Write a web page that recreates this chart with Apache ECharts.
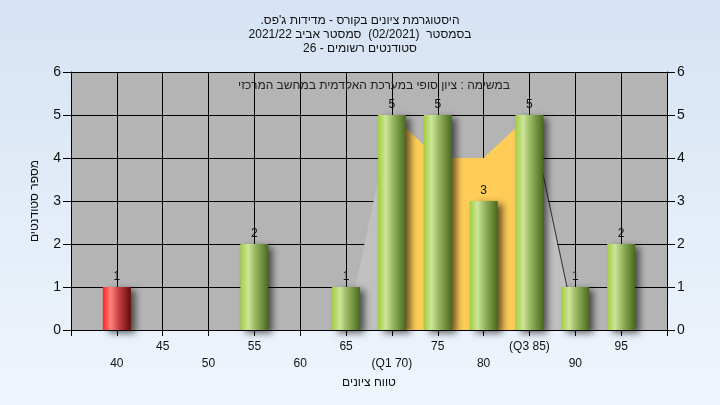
<!DOCTYPE html>
<html>
<head>
<meta charset="utf-8">
<script src="https://cdn.jsdelivr.net/npm/echarts@6/dist/echarts.min.js"></script>
<style>
html,body{margin:0;padding:0;}
#c{width:720px;height:405px;}
</style>
</head>
<body>
<div id="c"></div>
<script>
// ---- data ----
var categories = ['35','40','45','50','55','60','65','70','75','80','85','90','95','100'];
var counts     = [null, 1, 0, 0, 2, 0, 1, 5, 5, 3, 5, 1, 2, null];
var failCats   = ['40'];
var tickLabels = {'70':'(Q1 70)','85':'(Q3 85)'};
var iqrArea    = [[70,5],[75,4],[80,4],[85,5]];
var lowWhisker = [[65,0],[70,5]];
var highWhisker= [[85,5],[90,0]];
var trendLine  = [[85.1,5],[89.1,1]];
var titleLines = ['היסטוגרמת ציונים בקורס - מדידות ג\'פס.\u200F', 'בסמסטר  (02/2021)  סמסטר אביב 2021/22', 'סטודנטים רשומים - 26'];
var subTitle   = 'במשימה : ציון סופי במערכת האקדמית במחשב המרכזי';
var yName = 'מספר סטודנטים';
var xName = 'טווח ציונים';

var FONT = '"Liberation Sans", "DejaVu Sans", Arial, sans-serif';
var greenGrad = new echarts.graphic.LinearGradient(0,0,1,0,[
  {offset:0,color:'#a2cd3f'},{offset:0.28,color:'#cde59a'},{offset:0.55,color:'#95b45e'},{offset:0.9,color:'#5a7a2c'},{offset:1,color:'#4a6520'}]);
var redGrad = new echarts.graphic.LinearGradient(0,0,1,0,[
  {offset:0,color:'#ff2525'},{offset:0.28,color:'#ff8080'},{offset:0.55,color:'#c94545'},{offset:0.9,color:'#801515'},{offset:1,color:'#650a0a'}]);

var barData = counts.map(function(v,i){
  if (v === null) return {value:null};
  var isFail = failCats.indexOf(categories[i]) >= 0;
  return {value: v, itemStyle:{color: isFail ? redGrad : greenGrad}};
});

var chart = echarts.init(document.getElementById('c'), null, {renderer:'canvas'});
chart.setOption({
  backgroundColor: new echarts.graphic.LinearGradient(0,0,0,1,[{offset:0,color:'#d6e3f4'},{offset:1,color:'#eff5fc'}]),
  animation:false,
  textStyle:{fontFamily:FONT},
  title:[{
    text: titleLines.join('\n'), left:'center', top:9,
    textStyle:{fontSize:12, fontWeight:'normal', color:'#111', lineHeight:14, fontFamily:FONT}
  },{
    text: subTitle, left: 369, top: 75, textAlign:'center',
    textStyle:{fontSize:12, fontWeight:'normal', color:'#222', fontFamily:FONT}
  }],
  grid:{left:71, right:53, top:72, bottom:75, show:true, backgroundColor:'#b4b4b4', borderWidth:0},
  xAxis:[{
    type:'category', data:categories, boundaryGap:false,
    axisLine:{lineStyle:{color:'#000', width:1}},
    axisTick:{show:true, length:6, lineStyle:{color:'#000'}},
    splitLine:{show:true, lineStyle:{color:'#000', width:1}},
    axisLabel:{
      interval:0, color:'#111', fontSize:12, margin:8, lineHeight:17, fontFamily:FONT,
      formatter:function(v, idx){
        if (v==='35' || v==='100') return '';
        var t = tickLabels[v] || v;
        return (idx % 2 === 1) ? '\n' + t : t;
      }
    },
    name: xName, nameLocation:'middle', nameGap:45,
    nameTextStyle:{color:'#111', fontSize:12, fontFamily:FONT}
  },{
    type:'value', min:35, max:100, show:false
  }],
  yAxis:[{
    type:'value', min:0, max:6, interval:1, position:'left',
    axisLine:{show:true, lineStyle:{color:'#000'}},
    axisTick:{show:true, length:8, lineStyle:{color:'#000'}},
    splitLine:{show:true, lineStyle:{color:'#000', width:1}},
    axisLabel:{color:'#111', fontSize:14, margin:10, fontFamily:FONT},
    name: yName, nameLocation:'middle', nameGap:30, nameRotate:90,
    nameTextStyle:{color:'#111', fontSize:12, fontFamily:FONT}
  },{
    type:'value', min:0, max:6, interval:1, position:'right',
    axisLine:{show:true, lineStyle:{color:'#000'}},
    axisTick:{show:true, length:8, lineStyle:{color:'#000'}},
    splitLine:{show:false},
    axisLabel:{color:'#111', fontSize:14, margin:10, fontFamily:FONT}
  }],
  series:[{
    type:'line', xAxisIndex:1, data:lowWhisker, symbol:'none', z:1,
    lineStyle:{width:0, opacity:0}, areaStyle:{color:'#c0c0c0', opacity:1}
  },{
    type:'line', xAxisIndex:1, data:highWhisker, symbol:'none', z:1,
    lineStyle:{width:0, opacity:0}, areaStyle:{color:'#c0c0c0', opacity:1}
  },{
    type:'line', xAxisIndex:1, data:iqrArea, symbol:'none', z:1,
    lineStyle:{width:0, opacity:0}, areaStyle:{color:'#ffcc58', opacity:1}
  },{
    type:'line', xAxisIndex:1, data:trendLine, symbol:'none', z:1,
    lineStyle:{width:1, color:'#333'}
  },{
    type:'bar', data:barData, barWidth:28, z:3,
    itemStyle:{shadowColor:'rgba(0,0,0,0.6)', shadowBlur:7, shadowOffsetX:5, shadowOffsetY:3},
    label:{show:true, position:'top', distance:4, color:'#111', fontSize:12, fontFamily:FONT,
      formatter:function(p){ return p.value ? String(p.value) : ''; }}
  }]
});
</script>
</body>
</html>
